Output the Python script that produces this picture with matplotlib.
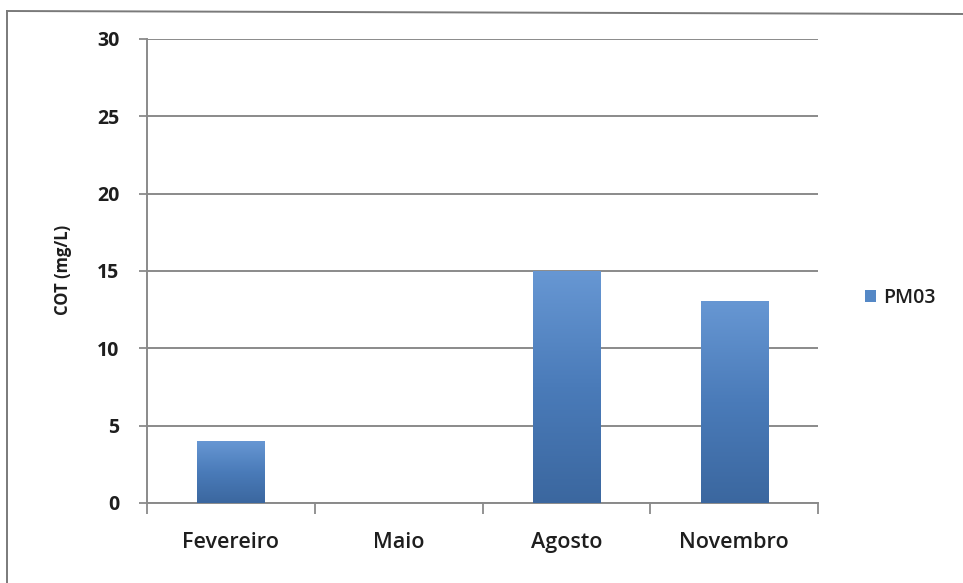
import numpy as np
import matplotlib
matplotlib.use("Agg")
import matplotlib.pyplot as plt
from matplotlib.colors import LinearSegmentedColormap
from matplotlib.lines import Line2D
from matplotlib.patches import Patch

months = ["Fevereiro", "Maio", "Agosto", "Novembro"]
cot_values = [4, 0, 15, 13]
series_name = "PM03"
y_label = "COT (mg/L)"
y_ticks = [0, 5, 10, 15, 20, 25, 30]

W, H = 963, 583
fig = plt.figure(figsize=(W / 100, H / 100), dpi=100)
fig.patch.set_facecolor("white")

ax = fig.add_axes([147 / W, (H - 503) / H, (818 - 147) / W, (503 - 39) / H])
ax.set_facecolor("white")

text_color = "#1e1e1e"
grid_color = "#8a8a8a"
font = "Open Sans"

x = np.arange(len(months))
bars = ax.bar(x, cot_values, width=0.40, color="none", edgecolor="none", zorder=3)

# vertical gradient inside each bar, light at the top, darker at the base
grad_cmap = LinearSegmentedColormap.from_list(
    "bar_grad", ["#3b679f", "#4a7bb9", "#6797d3"])
grad = np.linspace(0, 1, 256).reshape(-1, 1)
for b in bars:
    h = b.get_height()
    if h <= 0:
        continue
    x0 = b.get_x()
    ax.imshow(grad, cmap=grad_cmap, aspect="auto", origin="lower",
              extent=(x0, x0 + b.get_width(), 0, h), zorder=3,
              interpolation="bilinear")

ax.set_xlim(-0.5, len(months) - 0.5)
ax.set_ylim(0, 30)
ax.set_yticks(y_ticks)
ax.set_yticklabels([str(v) for v in y_ticks], fontsize=14, fontweight="bold",
                   family=font, color=text_color)
ax.yaxis.grid(True, color=grid_color, linewidth=1.4, zorder=0)
ax.set_axisbelow(True)

# category labels centred, tick marks on category boundaries
ax.set_xticks(x)
ax.set_xticklabels(months, fontsize=15.5, fontweight="semibold", family=font,
                   color=text_color)
ax.set_xticks(np.arange(-0.5, len(months)), minor=True)
ax.tick_params(axis="x", which="major", length=0, pad=21)
ax.tick_params(axis="x", which="minor", length=8, width=1.3, color=grid_color)
ax.tick_params(axis="y", length=6, width=1.3, color=grid_color, pad=14)

for side in ["top", "right"]:
    ax.spines[side].set_visible(False)
ax.spines["left"].set_color(grid_color)
ax.spines["left"].set_linewidth(1.4)
ax.spines["bottom"].set_color(grid_color)
ax.spines["bottom"].set_linewidth(1.4)

fig.text(63 / W, 1 - 270 / H, y_label, rotation=90, ha="center", va="center",
         fontsize=12, fontweight="bold", family=font, color=text_color)

handle = Patch(facecolor="#5588c6", edgecolor="none")
fig.legend([handle], [series_name], loc="center left",
           bbox_to_anchor=(855 / W, 1 - 298 / H), frameon=False,
           prop={"family": font, "size": 14, "weight": "semibold"},
           handlelength=0.6, handleheight=0.6, handletextpad=0.35,
           borderpad=0, labelcolor=text_color)

# outer chart frame
fig.add_artist(Line2D([7 / W, 7 / W], [0, 1 - 11 / H], color="#7a7a7a",
                      linewidth=1.4, transform=fig.transFigure))
fig.add_artist(Line2D([7 / W, 1], [1 - 11 / H, 1 - 14 / H], color="#7a7a7a",
                      linewidth=1.4, transform=fig.transFigure))

fig.savefig("out.png", dpi=100)
